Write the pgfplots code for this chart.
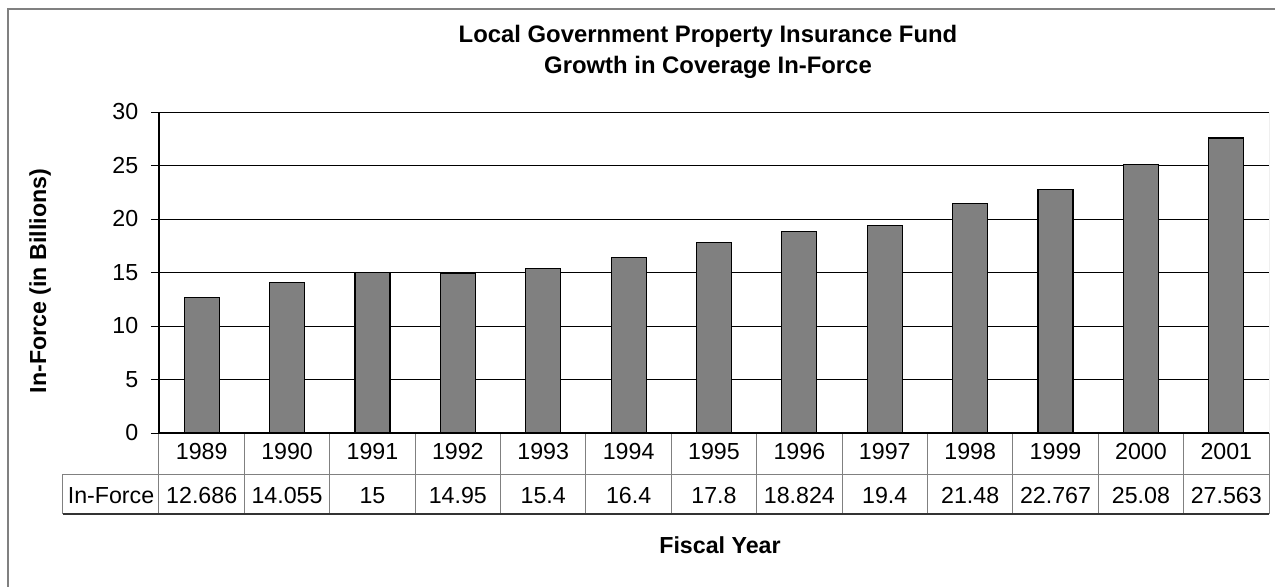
\documentclass[border=0pt]{standalone}
\usepackage{fontspec}
\setmainfont{Liberation Sans}
\usepackage{pgfplots}
\pgfplotsset{compat=1.18}
\definecolor{barfill}{HTML}{808080}
\definecolor{framegray}{HTML}{808080}
\begin{document}
\begin{tikzpicture}[font=\fontsize{17.4pt}{20.9pt}\selectfont]
\useasboundingbox (-119.25pt,-114.75pt) rectangle (837pt,324.75pt);
\draw[framegray, line width=0.9pt] (-113.25pt,-130pt) -- (-113.25pt,318pt) -- (850pt,318pt);
\begin{axis}[
  at={(0pt,0pt)}, anchor=south west,
  scale only axis, width=832.5pt, height=240.75pt,
  xmin=-0.5, xmax=12.5, ymin=0, ymax=30,
  axis x line*=bottom, axis y line*=left,
  axis line style={black, line width=0.9pt},
  ytick={0,5,10,15,20,25,30},
  xtick={0,1,2,3,4,5,6,7,8,9,10,11,12},
  xticklabels={1989,1990,1991,1992,1993,1994,1995,1996,1997,1998,1999,2000,2001},
  minor xtick={-0.5,0.5,1.5,2.5,3.5,4.5,5.5,6.5,7.5,8.5,9.5,10.5,11.5,12.5},
  tick align=outside,
  major tick length=6pt,
  minor tick length=60.75pt,
  major x tick style={draw=none},
  minor x tick style={framegray, line width=0.75pt},
  y tick style={black, line width=0.75pt},
  ymajorgrids,
  major grid style={black, line width=0.75pt},
  /pgf/number format/assume math mode=true,
  yticklabel style={inner sep=0pt, xshift=-9.4pt},
  xticklabel style={anchor=base, inner sep=0pt, yshift=-13.5pt},
  extra x ticks={0,1,2,3,4,5,6,7,8,9,10,11,12},
  extra x tick labels={12.686,14.055,15,14.95,15.4,16.4,17.8,18.824,19.4,21.48,22.767,25.08,27.563},
  extra x tick style={major x tick style={draw=none}, xticklabel style={yshift=-33pt}},
  title={Local Government Property Insurance Fund\\Growth in Coverage In-Force},
  title style={font=\fontsize{17.9pt}{23.25pt}\selectfont\bfseries, align=center, at={(rel axis cs:0.4946,1)}, anchor=south, inner sep=0pt, yshift=18.75pt},
  ylabel={In-Force (in Billions)},
  ylabel style={font=\fontsize{17.4pt}{20.9pt}\selectfont\bfseries, at={(axis description cs:-0.1072,0.4735)}, anchor=center},
  xlabel={Fiscal Year},
  xlabel style={font=\fontsize{17.4pt}{20.9pt}\selectfont\bfseries, at={(rel axis cs:0.5054,0)}, anchor=base, inner sep=0pt, yshift=-90pt},
]
\addplot[ybar, bar width=26.25pt, fill=barfill, draw=black, line width=0.9pt]
  coordinates {(0,12.686) (1,14.055) (2,15) (3,14.95) (4,15.4) (5,16.4) (6,17.8) (7,18.824) (8,19.4) (9,21.48) (10,22.767) (11,25.08) (12,27.563)};
\draw[framegray, line width=0.75pt] (rel axis cs:1,0) -- (rel axis cs:1,1);
\end{axis}
\draw[framegray, line width=0.75pt] (-72pt,-30.75pt) -- (832.5pt,-30.75pt);
\draw[black!80, line width=0.9pt] (-72pt,-60.75pt) -- (832.5pt,-60.75pt);
\draw[framegray, line width=0.75pt] (-72pt,-30.75pt) -- (-72pt,-60.75pt);
\node[anchor=base, inner sep=0pt] at (-36pt,-52.5pt) {In-Force};
\end{tikzpicture}
\end{document}
